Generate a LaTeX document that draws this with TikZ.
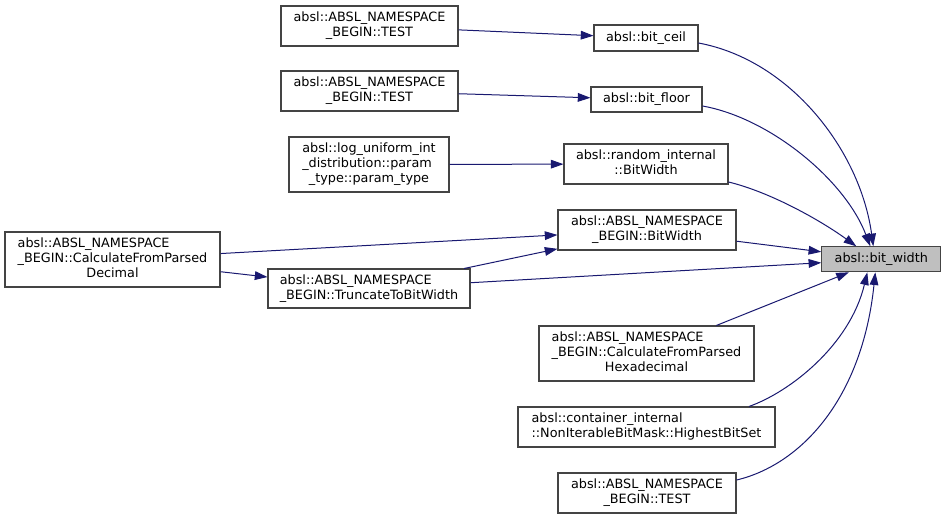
\documentclass[tikz,border=0pt]{standalone}
\usepackage{fontspec}
\setmainfont{DejaVu Sans}
\usetikzlibrary{arrows.meta,calc}
\definecolor{edgecol}{RGB}{25,25,112}
\definecolor{boxline}{RGB}{68,68,68}
\definecolor{hilite}{RGB}{191,191,191}
\newcommand\twol[2]{\begin{tabular}{@{}l@{}}#1\\\multicolumn{1}{@{}c@{}}{#2}\end{tabular}}
\newcommand\threel[3]{\begin{tabular}{@{}l@{}}#1\\#2\\\multicolumn{1}{@{}c@{}}{#3}\end{tabular}}
\tikzset{
  dbox/.style 2 args={draw=boxline, line width=0.8pt, fill=white, inner sep=0pt,
    minimum width=#1*0.75pt, minimum height=#2*0.75pt,
    font=\fontsize{9.6}{11.25}\selectfont},
  edge/.style={draw=edgecol, line width=0.75pt,
    -{Triangle[length=9.5pt,width=6.5pt]}, shorten >=0pt}
}
\begin{document}
\begin{tikzpicture}[x=0.75pt,y=-0.75pt]
\path[use as bounding box] (0,0) rectangle (945,519);

\node[dbox={119}{25}, fill=hilite] (bw) at (881.3,259.3) {absl::bit\_width};
\node[dbox={104}{26}] (ceil) at (646,38) {absl::bit\_ceil};
\node[dbox={177}{40}] (test1) at (369.5,26) {\twol{absl::ABSL\_NAMESPACE}{\_BEGIN::TEST}};
\node[dbox={177}{40}] (test2) at (369.5,91) {\twol{absl::ABSL\_NAMESPACE}{\_BEGIN::TEST}};
\node[dbox={111}{25}] (floor) at (646.5,99.5) {absl::bit\_floor};
\node[dbox={160}{55}] (log) at (369,164.5) {\threel{absl::log\_uniform\_int}{\_distribution::param}{\_type::param\_type}};
\node[dbox={164}{40}] (random) at (646,164) {\twol{absl::random\_internal}{::BitWidth}};
\node[dbox={178}{40}] (absbw) at (647,230) {\twol{absl::ABSL\_NAMESPACE}{\_BEGIN::BitWidth}};
\node[dbox={215}{55}] (dec) at (112.5,259.5) {\threel{absl::ABSL\_NAMESPACE}{\_BEGIN::CalculateFromParsed}{Decimal}};
\node[dbox={202}{39}] (trunc) at (369,288.5) {\twol{absl::ABSL\_NAMESPACE}{\_BEGIN::TruncateToBitWidth}};
\node[dbox={215}{55}] (hex) at (646.5,353.5) {\threel{absl::ABSL\_NAMESPACE}{\_BEGIN::CalculateFromParsed}{Hexadecimal}};
\node[dbox={257}{40}] (cont) at (646.5,427) {\twol{absl::container\_internal}{::NonIterableBitMask::HighestBitSet}};
\node[dbox={178}{40}] (test3) at (647,493) {\twol{absl::ABSL\_NAMESPACE}{\_BEGIN::TEST}};

% straight edges
\draw[edge] (test1) -- (ceil);
\draw[edge] (test2) -- (floor);
\draw[edge] (log) -- (random);
\draw[edge] (dec) -- (absbw);
\draw[edge] (dec) -- (trunc);
\draw[edge] (trunc) -- (absbw);
\draw[edge] (trunc) -- (bw);
\draw[edge] (absbw) -- (bw);
\draw[edge] (hex) -- (bw);

% curved edges
\draw[edge] ($(ceil.east)+(0,5)$) .. controls (790,60) and (860,150) .. ($(bw.north)+(-8,0)$);
\draw[edge] ($(floor.east)+(0,6.5)$) .. controls (770,118) and (845,180) .. ($(bw.north)+(-11,0)$);
\draw[edge] ($(random.east)+(0,18)$) .. controls (770,192) and (820,220) .. ($(bw.north)+(-25,0)$);
\draw[edge] ($(cont.north)+(102.5,0)$) .. controls (790,392) and (850,345) .. ($(bw.south)+(-14,0)$);
\draw[edge] ($(test3.east)+(0,-13)$) .. controls (800,465) and (862,400) .. ($(bw.south)+(-6,0)$);
\end{tikzpicture}
\end{document}
